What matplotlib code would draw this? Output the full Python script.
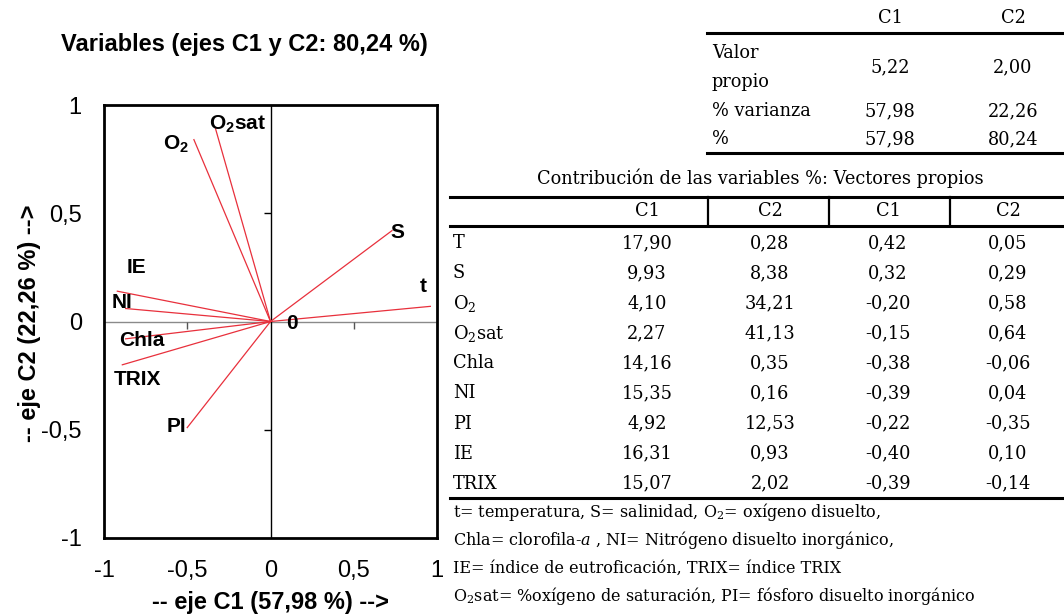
import matplotlib
matplotlib.use("Agg")
import matplotlib.pyplot as plt

plt.rcParams['mathtext.fontset'] = 'custom'
plt.rcParams['mathtext.rm'] = 'DejaVu Serif'
plt.rcParams['mathtext.it'] = 'DejaVu Serif:italic'
plt.rcParams['mathtext.bf'] = 'Liberation Sans:bold'

SANS = ['Liberation Sans', 'DejaVu Sans']
SERIF = ['DejaVu Serif']

# correlation circle: coordinates of each variable on C1 / C2
var_names = ['t', 'S', r'O$_\mathbf{2}$', r'O$_\mathbf{2}$sat', 'Chla', 'NI', 'PI', 'IE', 'TRIX']
load_c1 = [0.96, 0.73, -0.46, -0.33, -0.87, -0.87, -0.50, -0.92, -0.89]
load_c2 = [0.07, 0.42, 0.84, 0.89, -0.08, 0.06, -0.49, 0.14, -0.20]
# where each name is written
label_xy = [(0.92, 0.16), (0.765, 0.41), (-0.565, 0.82), (-0.20, 0.91),
            (-0.77, -0.09), (-0.89, 0.09), (-0.565, -0.485), (-0.805, 0.25),
            (-0.80, -0.27)]

axis_ticks = [-1, -0.5, 0, 0.5, 1]
axis_ticklabels = ['-1', '-0,5', '0', '0,5', '1']

# eigenvalue table
eig_cols = ['C1', 'C2']
eig_rows = ['Valor', 'propio', '% varianza', '%']
valor_propio = [5.22, 2.00]
pct_varianza = [57.98, 22.26]
pct_acum = [57.98, 80.24]

# contributions and eigenvectors
tab_rows = ['T', 'S', 'O$_2$', 'O$_2$sat', 'Chla', 'NI', 'PI', 'IE', 'TRIX']
contrib_c1 = [17.90, 9.93, 4.10, 2.27, 14.16, 15.35, 4.92, 16.31, 15.07]
contrib_c2 = [0.28, 8.38, 34.21, 41.13, 0.35, 0.16, 12.53, 0.93, 2.02]
vec_c1 = [0.42, 0.32, -0.20, -0.15, -0.38, -0.39, -0.22, -0.40, -0.39]
vec_c2 = [0.05, 0.29, 0.58, 0.64, -0.06, 0.04, -0.35, 0.10, -0.14]

notes = ['t= temperatura, S= salinidad, O$_2$= oxígeno disuelto,',
         'Chla= clorofila-$a$ , NI= Nitrógeno disuelto inorgánico,',
         'IE= índice de eutroficación, TRIX= índice TRIX',
         'O$_2$sat= %oxígeno de saturación, PI= fósforo disuelto inorgánico']


def fmt(v):
    return f'{v:.2f}'.replace('.', ',')


W, H = 1064, 616
fig = plt.figure(figsize=(W / 100, H / 100), dpi=100)

ax = fig.add_axes([104 / W, 1 - 538 / H, 333 / W, 433 / H])
ax.set_xlim(-1, 1)
ax.set_ylim(-1, 1)
for sp in ax.spines.values():
    sp.set_linewidth(2.0)
ax.axhline(0, color='#8a8a8a', lw=1.0, zorder=1)
ax.axvline(0, color='black', lw=1.0, zorder=1)
# small ticks on the centre lines
ax.plot([-0.5, 0.5], [0, 0], ls='none', marker=3, ms=5, mew=1.0, color='#555555')
ax.plot([0, 0], [-0.5, 0.5], ls='none', marker=0, ms=5, mew=1.0, color='black')

for name, x, y, (lx, ly) in zip(var_names, load_c1, load_c2, label_xy):
    ax.plot([0, x], [0, y], color='#e8303c', lw=0.9, zorder=2)
    ax.text(lx, ly, name, ha='center', va='center', fontsize=15,
            fontweight='bold', family=SANS, zorder=3)
ax.text(0.13, -0.01, '0', ha='center', va='center', fontsize=15,
        fontweight='bold', family=SANS, zorder=3)

ax.set_xticks(axis_ticks)
ax.set_xticklabels(axis_ticklabels)
ax.set_yticks(axis_ticks)
ax.set_yticklabels(axis_ticklabels)
ax.tick_params(length=0, labelsize=17, pad=16)
for lab in ax.get_xticklabels() + ax.get_yticklabels():
    lab.set_family(SANS)

# overlay in pixel units for titles and tables
tx = fig.add_axes([0, 0, 1, 1], zorder=-1)
tx.set_xlim(0, W)
tx.set_ylim(H, 0)
tx.axis('off')

tx.text(244, 44, 'Variables (ejes C1 y C2: 80,24 %)', ha='center', va='center',
        fontsize=17, fontweight='bold', family=SANS)
tx.text(271, 602, '-- eje C1 (57,98 %) -->', ha='center', va='center',
        fontsize=17, fontweight='bold', family=SANS)
tx.text(30, 323, '-- eje C2 (22,26 %) -->', ha='center', va='center',
        rotation=90, fontsize=17, fontweight='bold', family=SANS)

fs = 12.8
# eigenvalue table
tx.plot([707, W], [33, 33], color='black', lw=2.2)
tx.plot([707, W], [153, 153], color='black', lw=2.2)
eig_x = [890, 1013]
for cx, c in zip(eig_x, eig_cols):
    tx.text(cx, 18, c, ha='center', va='center', fontsize=fs, family=SERIF)
for ry, r in zip([53, 82, 111, 139], eig_rows):
    tx.text(712, ry, r, ha='left', va='center', fontsize=fs, family=SERIF)
for cx, a, b, c in zip(eig_x, valor_propio, pct_varianza, pct_acum):
    tx.text(cx, 67, fmt(a), ha='center', va='center', fontsize=fs, family=SERIF)
    tx.text(cx, 111, fmt(b), ha='center', va='center', fontsize=fs, family=SERIF)
    tx.text(cx, 139, fmt(c), ha='center', va='center', fontsize=fs, family=SERIF)

# contributions table
tx.text(760, 178, 'Contribución de las variables %: Vectores propios',
        ha='center', va='center', fontsize=fs, family=SERIF)
tx.plot([450, W], [197, 197], color='black', lw=2.2)
tx.plot([450, W], [226, 226], color='black', lw=2.2)
tx.plot([450, W], [498, 498], color='black', lw=2.2)
for sx in [708, 829, 950]:
    tx.plot([sx, sx], [197, 226], color='black', lw=1.6)
col_x = [647, 770, 888, 1008]
for cx, c in zip(col_x, ['C1', 'C2', 'C1', 'C2']):
    tx.text(cx, 211, c, ha='center', va='center', fontsize=fs, family=SERIF)
for i, r in enumerate(tab_rows):
    ry = 243 + 30.1 * i
    tx.text(453, ry, r, ha='left', va='center', fontsize=fs, family=SERIF)
    for cx, v in zip(col_x, [contrib_c1[i], contrib_c2[i], vec_c1[i], vec_c2[i]]):
        tx.text(cx, ry, fmt(v), ha='center', va='center', fontsize=fs, family=SERIF)

for i, n in enumerate(notes):
    tx.text(453, 512 + 28 * i, n, ha='left', va='center', fontsize=11.5,
            family=SERIF)

fig.savefig('out.png', dpi=100)
